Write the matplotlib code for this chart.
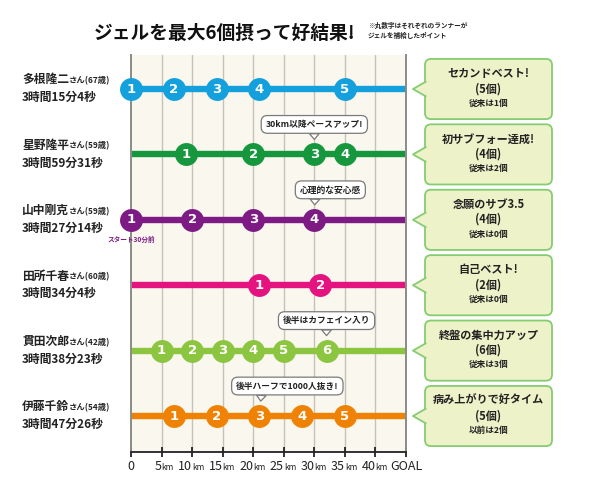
import matplotlib
matplotlib.use('Agg')
import matplotlib.pyplot as plt
from matplotlib.patches import FancyBboxPatch, Polygon

plt.rcParams['font.family'] = ['Noto Sans CJK JP', 'DejaVu Sans']

# --- data ---
names = ['多根隆二', '星野隆平', '山中剛克', '田所千春', '貫田次郎', '伊藤千鈴']
ages = [67, 59, 59, 60, 42, 54]
finish = ['3時間15分4秒', '3時間59分31秒', '3時間27分14秒',
          '3時間34分4秒', '3時間38分23秒', '3時間47分26秒']
gel_km = [[0, 7, 14, 21, 35],
          [9, 20, 30, 35],
          [0, 10, 20, 30],
          [21, 31],
          [5, 10, 15, 20, 25, 32],
          [7, 14, 21, 28, 35]]
colors = ['#14a0dc', '#17973d', '#7d1a83', '#e4137f', '#8cc540', '#ef8203']
headline = ['セカンドベスト!', '初サブフォー達成!', '念願のサブ3.5',
            '自己ベスト!', '終盤の集中力アップ', '病み上がりで好タイム']
before = ['従来は1個', '従来は2個', '従来は0個', '従来は0個', '従来は3個', '以前は2個']

tick_km = [0, 5, 10, 15, 20, 25, 30, 35, 40]
goal_pos = 45
# (runner, gel index, text, box shift px, pointer rel pos)
callouts = [(1, 2, '30km以降ペースアップ!', 0, 0.5),
            (2, 3, '心理的な安心感', 16, 0.25),
            (4, 5, '後半はカフェイン入り', 0, 0.5),
            (5, 2, '後半ハーフで1000人抜き!', 28, 0.25)]

W, H = 600, 488
fig = plt.figure(figsize=(6, 4.88), dpi=100)
px = 0.72  # points per pixel

ax = fig.add_axes([131 / W, (H - 452) / H, 275 / W, 397 / H])
ax.set_facecolor('#faf8ee')
ax.set_xlim(0, goal_pos)
ax.set_ylim(5.55, -0.52)
ax.set_yticks([])
ax.set_xticks(tick_km + [goal_pos])
ax.set_xticklabels([])
ax.tick_params(axis='x', direction='inout', length=7, width=1.3, color='#222')
ax.spines['top'].set_visible(False)
ax.spines['left'].set_color('#8c8c86')
ax.spines['right'].set_color('#8c8c86')
ax.spines['left'].set_linewidth(1.4)
ax.spines['right'].set_linewidth(1.4)
ax.spines['bottom'].set_color('#222')
ax.spines['bottom'].set_linewidth(1.3)
for k in tick_km[1:]:
    ax.axvline(k, color='#c6c3b6', lw=1, zorder=1)

# x labels
xt = ax.get_xaxis_transform()
for k in tick_km:
    if k == 0:
        ax.annotate('0', (k, 0), xycoords=xt, xytext=(0, -15 * px), textcoords='offset points',
                    ha='center', va='center', fontsize=9, color='#222', annotation_clip=False)
    else:
        ax.annotate(str(k), (k, 0), xycoords=xt, xytext=(0, -15 * px), textcoords='offset points',
                    ha='right', va='center', fontsize=9, color='#222', annotation_clip=False)
        ax.annotate('km', (k, 0), xycoords=xt, xytext=(0, -16 * px), textcoords='offset points',
                    ha='left', va='center', fontsize=6, color='#222', annotation_clip=False)
ax.annotate('GOAL', (goal_pos, 0), xycoords=xt, xytext=(0, -15 * px), textcoords='offset points',
            ha='center', va='center', fontsize=9, color='#222', annotation_clip=False)

yt = ax.get_yaxis_transform()
for i in range(len(names)):
    c = colors[i]
    ax.plot([0, goal_pos], [i, i], color=c, lw=4.6, solid_capstyle='butt', zorder=2)
    ax.scatter(gel_km[i], [i] * len(gel_km[i]), s=(16.5) ** 2, color=c, zorder=5,
               linewidths=0, clip_on=False)
    for j, k in enumerate(gel_km[i]):
        ax.text(k, i, str(j + 1), color='white', fontsize=9.5, fontweight='bold',
                ha='center', va='center', zorder=6, family='DejaVu Sans', clip_on=False)
    nt = ax.text(-0.396, i - 0.14, names[i], transform=yt, fontsize=8.5, fontweight='bold',
                 ha='left', va='center', color='#222')
    ax.annotate('さん(%d歳)' % ages[i], xy=(1, 0.08), xycoords=nt, ha='left', va='bottom',
                fontsize=6, fontweight='bold', color='#222')
    ax.text(-0.396, i + 0.13, finish[i], transform=yt, fontsize=8.5, fontweight='bold',
            ha='left', va='center', color='#222')

ax.annotate('スタート30分前', (0, 2), xytext=(0, -20 * px), textcoords='offset points',
            ha='center', va='center', fontsize=4.8, fontweight='bold', color='#7d1a83',
            annotation_clip=False, zorder=6)

for r, g, txt, dx, rel in callouts:
    ax.annotate(txt, (gel_km[r][g], r), xytext=(dx * px, 30 * px), textcoords='offset points',
                ha='center', va='center', fontsize=6.3, fontweight='bold', color='#222', zorder=7,
                bbox=dict(boxstyle='round,pad=0.5,rounding_size=0.7', fc='white', ec='#7a7a7a', lw=0.9),
                arrowprops=dict(arrowstyle='wedge,tail_width=1.1', fc='white', ec='#7a7a7a', lw=0.9,
                                shrinkA=0, shrinkB=15 * px, relpos=(rel, 0)))

# right-hand result boxes
ax2 = fig.add_axes([410 / W, (H - 452) / H, 190 / W, 397 / H], sharey=ax)
ax2.set_xlim(0, 190)
ax2.axis('off')
row_px = 397 / (5.55 + 0.52)
for i in range(len(names)):
    box = FancyBboxPatch((15, i - 0.46), 127, 0.92, boxstyle='round,pad=0,rounding_size=6',
                         mutation_aspect=1 / row_px, fc='#eef2c8', ec='#86cc72', lw=1.3, zorder=2)
    ax2.add_patch(box)
    ax2.add_patch(Polygon([(16.5, i - 0.11), (3, i), (16.5, i + 0.11)], closed=True,
                          fc='#eef2c8', ec='none', zorder=3))
    ax2.plot([15.6, 3, 15.6], [i - 0.11, i, i + 0.11], color='#86cc72', lw=1.3, zorder=4)
    ax2.text(78.5, i - 0.235, headline[i], ha='center', va='center', fontsize=8,
             fontweight='bold', color='#222', zorder=5)
    ax2.text(78.5, i - 0.005, '(%d個)' % len(gel_km[i]), ha='center', va='center', fontsize=8,
             fontweight='bold', color='#222', zorder=5)
    ax2.text(78.5, i + 0.215, before[i], ha='center', va='center', fontsize=6.2,
             fontweight='bold', color='#222', zorder=5)

fig.text(225 / W, 1 - 33 / H, 'ジェルを最大6個摂って好結果!', ha='center', va='center',
         fontsize=13.5, fontweight='bold', color='#111')
fig.text(368 / W, 1 - 30.5 / H, '※丸数字はそれぞれのランナーが\nジェルを補給したポイント',
         ha='left', va='center', fontsize=4.8, fontweight='bold', color='#222', linespacing=1.5)

fig.savefig('out.png', dpi=100)
